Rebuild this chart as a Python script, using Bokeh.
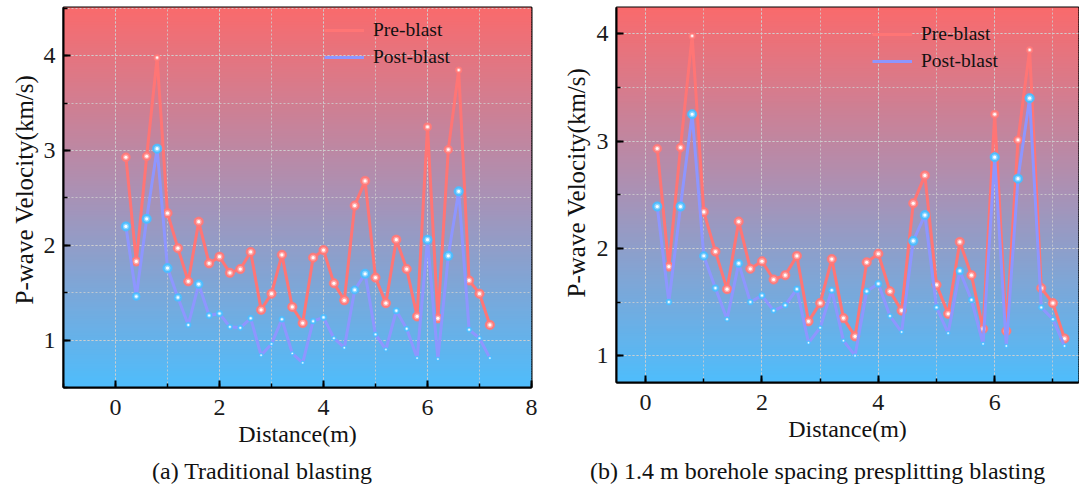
import numpy as np
from bokeh.plotting import figure
from bokeh.models import (ColumnDataSource, Range1d, SingleIntervalTicker, Legend,
                          LegendItem, Div, Title)
from bokeh.layouts import row, column
from bokeh.embed import file_html
from bokeh.resources import INLINE

# ---------------- data ----------------
distance = [0.2, 0.4, 0.6, 0.8, 1.0, 1.2, 1.4, 1.6, 1.8, 2.0, 2.2, 2.4,
            2.6, 2.8, 3.0, 3.2, 3.4, 3.6, 3.8, 4.0, 4.2, 4.4, 4.6, 4.8,
            5.0, 5.2, 5.4, 5.6, 5.8, 6.0, 6.2, 6.4, 6.6, 6.8, 7.0, 7.2]

pre_blast = [2.93, 1.83, 2.94, 3.98, 2.34, 1.97, 1.62, 2.25, 1.81, 1.88, 1.71, 1.75,
             1.93, 1.32, 1.49, 1.90, 1.35, 1.18, 1.87, 1.95, 1.60, 1.42, 2.42, 2.68,
             1.66, 1.39, 2.06, 1.75, 1.25, 3.25, 1.23, 3.01, 3.85, 1.63, 1.49, 1.16]

post_traditional = [2.20, 1.46, 2.28, 3.02, 1.76, 1.45, 1.16, 1.59, 1.26, 1.28, 1.14, 1.13,
                    1.23, 0.84, 0.96, 1.22, 0.86, 0.76, 1.20, 1.24, 1.02, 0.92, 1.53, 1.70,
                    1.06, 0.90, 1.31, 1.12, 0.81, 2.06, 0.80, 1.89, 2.57, 1.11, 1.02, 0.81]

post_presplit = [2.39, 1.50, 2.39, 3.25, 1.93, 1.63, 1.34, 1.86, 1.50, 1.56, 1.42, 1.47,
                 1.62, 1.12, 1.26, 1.61, 1.14, 1.00, 1.60, 1.67, 1.37, 1.22, 2.07, 2.31,
                 1.45, 1.21, 1.79, 1.52, 1.11, 2.85, 1.09, 2.65, 3.40, 1.45, 1.34, 1.09]

captions = ["(a) Traditional blasting",
            "(b) 1.4 m borehole spacing presplitting blasting"]
series_names = ["Pre-blast", "Post-blast"]
x_title = "Distance(m)"
y_title = "P-wave Velocity(km/s)"

# ---------------- style ----------------
FONT = "Liberation Serif"
PRE_LINE = "#FF7575"
PRE_MARK = "#FF7A7A"
POST_LINE = "#8E96FF"
POST_MARK = "#4DBDFF"
GRID = "#D0D0D0"
TOP_RGB = np.array([250, 106, 108])
MID_RGB = np.array([168, 146, 182])
BOT_RGB = np.array([78, 189, 252])


def grad_color(t):
    if t < 0.5:
        c = TOP_RGB + (MID_RGB - TOP_RGB) * (t / 0.5)
    else:
        c = MID_RGB + (BOT_RGB - MID_RGB) * ((t - 0.5) / 0.5)
    c = np.clip(np.round(c), 0, 255).astype(int)
    return "#%02x%02x%02x" % tuple(c)


def pre_sizes(vals):
    v = np.array(vals)
    return list(9.5 - np.clip((v - 2.7) * 2.5, 0, 3))


def post_sizes(vals, lo, slope):
    v = np.array(vals)
    return list(np.clip(4 + (v - lo) * slope, 4, 9.5))


def make_panel(post, post_lo, post_slope, x_start, x_end, y_start, y_end, width,
               mb_left, mb_right, mb_bottom, legend_loc, ylab_standoff, ylab_offset):
    p = figure(width=width, height=458, output_backend="svg", toolbar_location=None,
               x_range=Range1d(x_start, x_end), y_range=Range1d(y_start, y_end),
               min_border_left=mb_left, min_border_right=mb_right,
               min_border_top=7, min_border_bottom=mb_bottom)
    p.background_fill_color = "#4FBBF8"
    p.border_fill_color = "white"
    p.outline_line_color = "black"
    p.outline_line_width = 2
    p.outline_line_alpha = 1

    # gradient background
    n = 160
    edges = np.linspace(y_start, y_end, n + 1)
    step = edges[1] - edges[0]
    bg = ColumnDataSource(dict(
        bottom=list(edges[:-1]),
        top=list(edges[1:] + step * 0.6),
        left=[x_start] * n, right=[x_end] * n,
        color=[grad_color(1 - (i + 0.5) / n) for i in range(n)]))
    p.quad(left="left", right="right", bottom="bottom", top="top", source=bg,
           fill_color="color", line_color=None, level="image")

    # grids
    p.xaxis.ticker = SingleIntervalTicker(interval=2, num_minor_ticks=2)
    p.yaxis.ticker = SingleIntervalTicker(interval=1, num_minor_ticks=2)
    for g in (p.xgrid, p.ygrid):
        g.grid_line_color = GRID
        g.grid_line_dash = "2 2"
        g.grid_line_width = 1
        g.grid_line_alpha = 0.8
        g.minor_grid_line_color = GRID
        g.minor_grid_line_dash = "2 2"
        g.minor_grid_line_width = 1
        g.minor_grid_line_alpha = 0.8

    # axes
    for ax in (p.xaxis[0], p.yaxis[0]):
        ax.axis_line_width = 2
        ax.axis_line_color = "black"
        ax.major_tick_in = 7
        ax.major_tick_out = 0
        ax.minor_tick_in = 4
        ax.minor_tick_out = 0
        ax.major_tick_line_width = 2
        ax.minor_tick_line_width = 1.5
        ax.major_tick_line_color = "black"
        ax.minor_tick_line_color = "black"
        ax.major_label_text_font = FONT
        ax.major_label_text_font_size = "24px"
        ax.major_label_text_color = "#1a1a1a"
        ax.axis_label_text_font = FONT
        ax.axis_label_text_font_style = "normal"
        ax.axis_label_text_color = "#111111"
    p.xaxis.axis_label = x_title
    p.xaxis.axis_label_text_font_size = "24px"
    p.xaxis.major_label_standoff = 12
    p.xaxis.axis_label_standoff = 3
    p.yaxis.major_label_standoff = 8

    # y title drawn as a left-side title so it can sit where the original has it
    ytitle = Title(text=y_title, align="left", offset=ylab_offset,
                   standoff=ylab_standoff, text_font=FONT, text_font_size="25px",
                   text_font_style="normal", text_color="#111111")
    p.add_layout(ytitle, "left")

    src = ColumnDataSource(dict(
        x=distance, pre=pre_blast, post=post,
        pre_size=pre_sizes(pre_blast),
        post_size=post_sizes(post, post_lo, post_slope)))
    src.data["pre_hl"] = [s * 0.34 for s in src.data["pre_size"]]
    src.data["post_hl"] = [s * 0.34 for s in src.data["post_size"]]
    src.data["pre_glow"] = [s * 0.62 for s in src.data["pre_size"]]
    src.data["post_glow"] = [s * 0.62 for s in src.data["post_size"]]

    pre_line = p.line("x", "pre", source=src, line_color=PRE_LINE, line_width=3)
    p.scatter("x", "pre", source=src, size="pre_size", fill_color=PRE_MARK,
              line_color=PRE_MARK, line_width=0.5)
    p.scatter("x", "pre", source=src, size="pre_glow", fill_color="white",
              fill_alpha=0.35, line_color=None)
    p.scatter("x", "pre", source=src, size="pre_hl", fill_color="white",
              fill_alpha=0.95, line_color=None)

    post_line = p.line("x", "post", source=src, line_color=POST_LINE, line_width=3)
    p.scatter("x", "post", source=src, size="post_size", fill_color=POST_MARK,
              line_color=POST_MARK, line_width=0.5)
    p.scatter("x", "post", source=src, size="post_glow", fill_color="white",
              fill_alpha=0.35, line_color=None)
    p.scatter("x", "post", source=src, size="post_hl", fill_color="white",
              fill_alpha=0.95, line_color=None)

    # legend-only glyphs (no data)
    empty = ColumnDataSource(dict(x=[], y=[]))
    lg_pre_m = p.scatter("x", "y", source=empty, size=6.5, fill_color=PRE_MARK,
                         line_color=PRE_MARK)
    lg_pre_h = p.scatter("x", "y", source=empty, size=2.5, fill_color="white",
                         line_color=None)
    lg_post_m = p.scatter("x", "y", source=empty, size=9.5, fill_color=POST_MARK,
                          line_color=POST_MARK)
    lg_post_h = p.scatter("x", "y", source=empty, size=3.2, fill_color="white",
                          line_color=None)

    legend = Legend(items=[
        LegendItem(label=series_names[0], renderers=[pre_line, lg_pre_m, lg_pre_h]),
        LegendItem(label=series_names[1], renderers=[post_line, lg_post_m, lg_post_h]),
    ], location=legend_loc)
    legend.background_fill_alpha = 0
    legend.border_line_color = None
    legend.padding = 0
    legend.margin = 0
    legend.spacing = 5
    legend.glyph_width = 40
    legend.glyph_height = 20
    legend.label_height = 20
    legend.label_standoff = 9
    legend.label_text_font = FONT
    legend.label_text_font_size = "19.5px"
    legend.label_text_color = "#111111"
    p.add_layout(legend)
    return p


def caption_div(text, width, pad_left):
    html = ('<div style="font-family:\'Liberation Serif\',serif;font-size:24px;'
            'line-height:27px;color:#111111;white-space:nowrap;'
            'padding-left:%dpx;padding-top:0px;">%s</div>' % (pad_left, text))
    return Div(text=html, width=width, height=30, margin=0)


LEFT_W, RIGHT_W = 556, 523
p1 = make_panel(post_traditional, 0.95, 7.5, -1.0, 8.0, 0.50, 4.51, LEFT_W,
                63, 25, 71, (261, 319), 5, 83)
p2 = make_panel(post_presplit, 1.2, 6.5, -0.5, 7.44, 0.75, 4.245, RIGHT_W,
                60, 1, 76, (256, 310), 8, 85)
d1 = caption_div(captions[0], LEFT_W, 152)
d2 = caption_div(captions[1], RIGHT_W, 34)

layout = row(column(p1, d1, spacing=0), column(p2, d2, spacing=0), spacing=0)
open("out.html", "w").write(file_html(layout, INLINE))
